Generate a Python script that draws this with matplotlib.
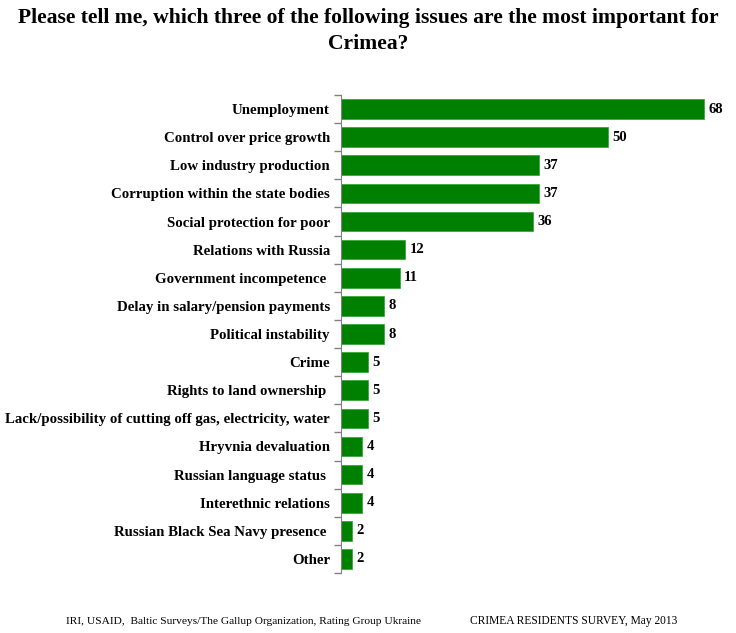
import numpy as np
import matplotlib.pyplot as plt

# data
issues = ['Unemployment', 'Control over price growth', 'Low industry production',
          'Corruption within the state bodies', 'Social protection for poor',
          'Relations with Russia', 'Government incompetence ',
          'Delay in salary/pension payments', 'Political instability', 'Crime',
          'Rights to land ownership ',
          'Lack/possibility of cutting off gas, electricity, water',
          'Hryvnia devaluation', 'Russian language status ', 'Interethnic relations',
          'Russian Black Sea Navy presence ', 'Other']
shares = [68, 50, 37, 37, 36, 12, 11, 8, 8, 5, 5, 5, 4, 4, 4, 2, 2]

plt.rcParams['font.family'] = ['Liberation Serif', 'DejaVu Serif']

fig = plt.figure(figsize=(7.36, 6.33), dpi=100)
ax = fig.add_axes([341 / 736, 60 / 633, 374 / 736, 478 / 633])

y = np.arange(len(issues))
ax.barh(y, shares, height=0.7, color='#008000', edgecolor='#3aa63a', linewidth=0.6)
for yi, v in zip(y, shares):
    ax.text(v + 0.8, yi, str(v), va='center', ha='left', fontsize=10.5, fontweight='bold')

ax.set_ylim(len(issues) - 0.5, -0.5)
ax.set_xlim(0, 70)
ax.set_yticks(y)
ax.set_yticklabels(issues, fontsize=10.7, fontweight='bold')
ax.set_yticks(np.arange(-0.5, len(issues)), minor=True)
ax.tick_params(axis='y', which='major', length=0, pad=8)
ax.tick_params(axis='y', which='minor', length=5, color='#808080', width=1)
ax.set_xticks([])
for s in ['top', 'right', 'bottom']:
    ax.spines[s].set_visible(False)
ax.spines['left'].set_color('#808080')

fig.text(0.5, 0.988, 'Please tell me, which three of the following issues are the most important for\nCrimea?',
         ha='center', va='top', fontsize=15.6, fontweight='bold', linespacing=1.4)
fig.text(66 / 736, 0.014, 'IRI, USAID,  Baltic Surveys/The Gallup Organization, Rating Group Ukraine',
         ha='left', va='baseline', fontsize=8.2)
fig.text(470 / 736, 0.014, 'CRIMEA RESIDENTS SURVEY, May 2013',
         ha='left', va='baseline', fontsize=8.3)

fig.savefig('out.png', dpi=100)
